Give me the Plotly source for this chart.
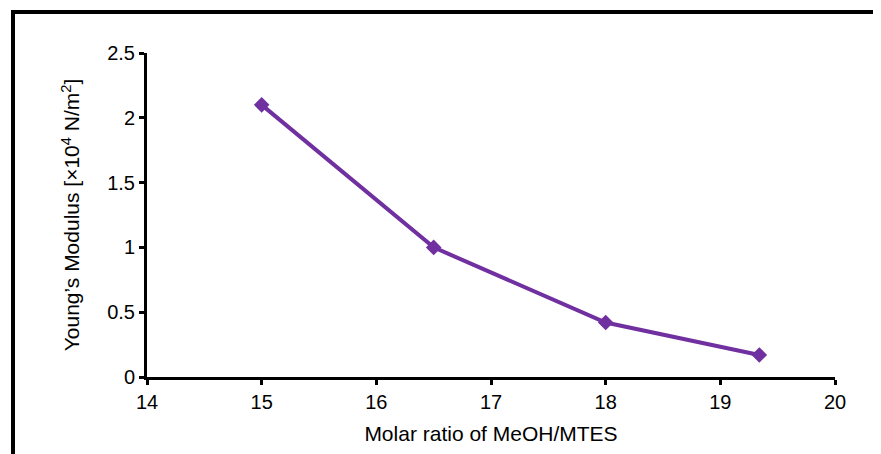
import plotly.graph_objects as go

molar_ratio = [15, 16.5, 18, 19.34]
youngs_modulus = [2.10, 1.00, 0.42, 0.17]

x_ticks = [14, 15, 16, 17, 18, 19, 20]
y_ticks = [0, 0.5, 1, 1.5, 2, 2.5]

W, H = 881, 454
# page body adds an 8px offset; margins compensate for it
L, R, T, B = 139, 54, 45, 85
pw, ph = W - L - R, H - T - B

fig = go.Figure()
fig.add_trace(go.Scatter(
    x=molar_ratio, y=youngs_modulus, mode="lines+markers",
    line=dict(color="#7030A0", width=4),
    marker=dict(symbol="diamond", size=12, color="#7030A0"),
    showlegend=False, cliponaxis=False,
))

font = dict(family="Liberation Sans", size=20, color="black")
tfont = dict(family="Liberation Sans", size=21, color="black")

fig.update_layout(
    width=W, height=H,
    margin=dict(l=L, r=R, t=T, b=B),
    paper_bgcolor="white", plot_bgcolor="white",
    font=font,
    xaxis=dict(range=[14, 20], tickvals=x_ticks, showgrid=False, zeroline=False,
               showline=True, linecolor="black", linewidth=3,
               ticks="outside", ticklen=5, tickwidth=3, tickcolor="black",
               tickfont=font,
               title=dict(text="Molar ratio of MeOH/MTES", font=tfont, standoff=15)),
    yaxis=dict(range=[0, 2.5], tickvals=y_ticks, showgrid=False, zeroline=False,
               showline=True, linecolor="black", linewidth=3,
               ticks="outside", ticklen=5, tickwidth=3, tickcolor="black",
               tickfont=font,
               title=dict(text="Young’s Modulus [×10<sup>4</sup> N/m<sup>2</sup>]", font=tfont, standoff=22)),
)

# outer frame (extends beyond right and bottom edges)
x0 = (5 - L) / pw
y1 = (H - B - 4) / ph
fig.add_shape(type="rect", xref="paper", yref="paper",
              x0=x0, x1=1.5, y0=-1.0, y1=y1,
              line=dict(color="black", width=4), fillcolor="rgba(0,0,0,0)", layer="below")

fig.write_html("out.html")
